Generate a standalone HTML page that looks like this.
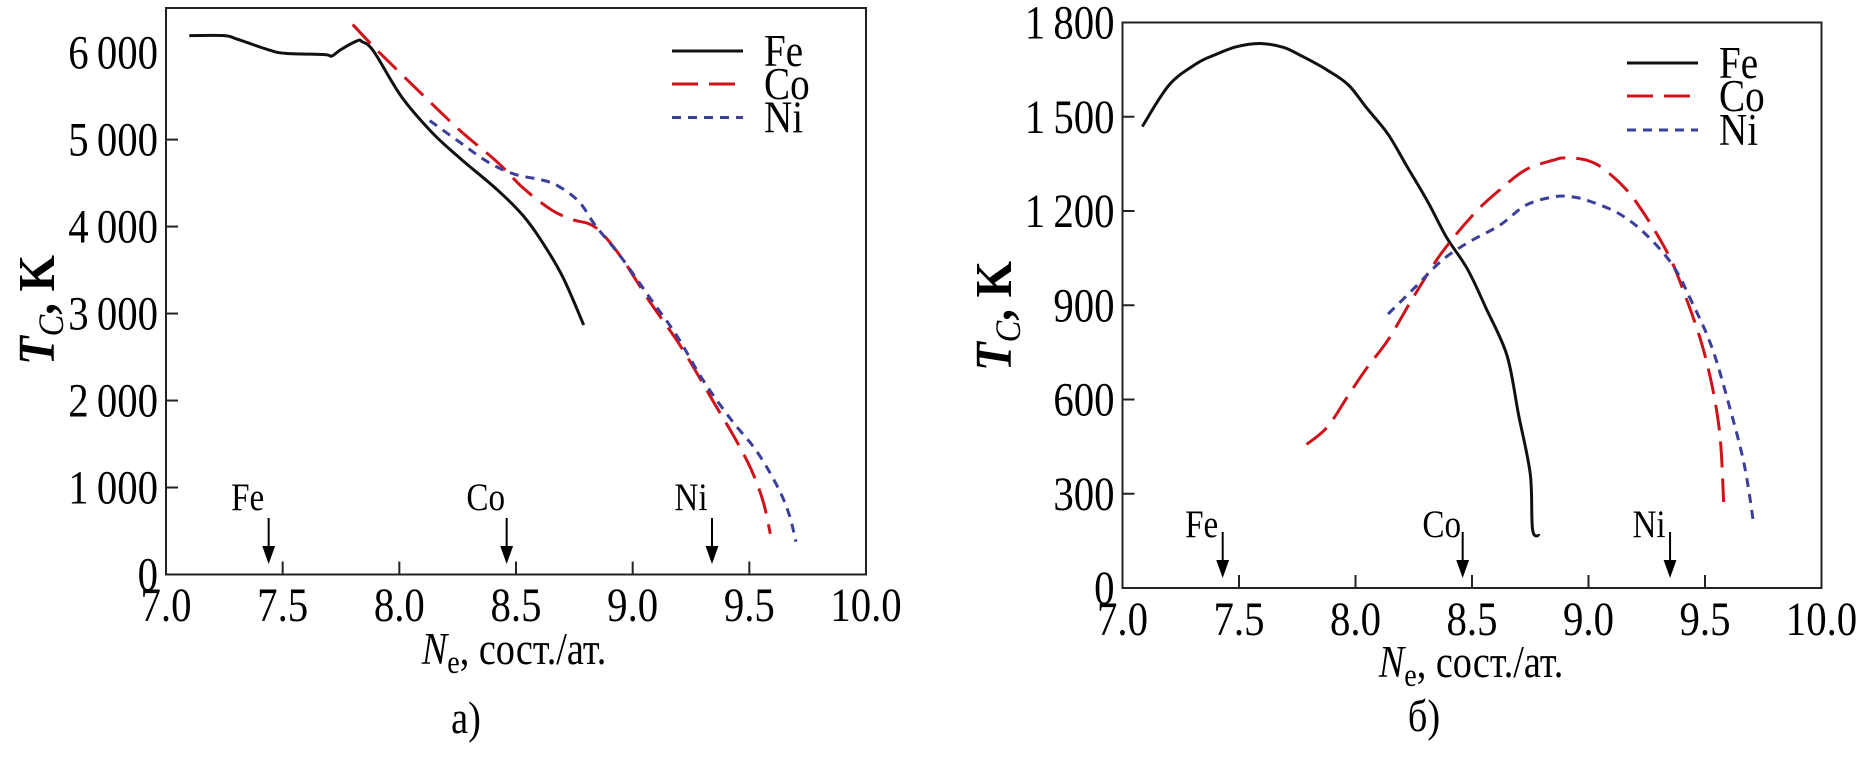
<!DOCTYPE html>
<html><head><meta charset="utf-8"><style>
html,body{margin:0;padding:0;background:#fff;}
svg{display:block;}
svg text{font-family:"Liberation Serif","Times New Roman",serif;}
</style></head><body>
<svg id="chart" width="1875" height="759" viewBox="0 0 1875 759" xmlns="http://www.w3.org/2000/svg"></svg>
<script>
// ---- Panel a data ----
const xTicks = [7.0, 7.5, 8.0, 8.5, 9.0, 9.5, 10.0];
const xTickLabels = ["7.0","7.5","8.0","8.5","9.0","9.5","10.0"];
const aYTicks = [0,1000,2000,3000,4000,5000,6000];
const aYTickLabels = ["0","1\u2009000","2\u2009000","3\u2009000","4\u2009000","5\u2009000","6\u2009000"];
const aFeX = [7.10,7.25,7.31,7.45,7.52,7.68,7.71,7.75,7.82,7.84,7.89,8.01,8.14,8.26,8.42,8.53,8.61,8.70,8.79];
const aFeY = [6195,6195,6150,6023,5990,5977,5960,6036,6136,6127,6014,5490,5082,4786,4423,4127,3832,3423,2868];
const aCoX = [7.80,7.91,8.10,8.26,8.42,8.53,8.65,8.74,8.84,8.95,9.07,9.21,9.35,9.44,9.51,9.56,9.59];
const aCoY = [6323,6014,5514,5105,4741,4445,4195,4082,3991,3650,3150,2605,1968,1559,1195,832,468];
const aNiX = [8.13,8.26,8.38,8.49,8.61,8.68,8.77,8.84,8.95,9.07,9.19,9.30,9.42,9.53,9.62,9.67,9.70];
const aNiY = [5218,4968,4741,4605,4536,4468,4286,4014,3650,3195,2741,2241,1786,1423,1014,695,377];
const aMarkers = [7.44, 8.46, 9.34];
// ---- Panel b data ----
const bYTicks = [0,300,600,900,1200,1500,1800];
const bYTickLabels = ["0","300","600","900","1\u2009200","1\u2009500","1\u2009800"];
const bFeX = [7.085,7.20,7.32,7.40,7.49,7.59,7.69,7.77,7.88,7.97,8.05,8.14,8.22,8.31,8.39,8.48,8.56,8.65,8.70,8.75,8.76,8.79];
const bFeY = [1469,1601,1670,1698,1723,1733,1721,1693,1648,1601,1526,1444,1343,1230,1117,1016,891,740,551,362,186,167];
const bCoX = [7.79,7.88,7.97,8.05,8.14,8.25,8.37,8.51,8.62,8.73,8.85,8.90,8.99,9.07,9.19,9.33,9.41,9.50,9.56,9.58];
const bCoY = [457,513,614,702,790,928,1067,1192,1268,1331,1362,1369,1362,1331,1243,1079,941,740,513,274];
const bNiX = [8.14,8.25,8.37,8.48,8.62,8.73,8.85,8.93,9.01,9.13,9.24,9.36,9.44,9.53,9.61,9.67,9.71];
const bNiY = [872,953,1042,1098,1155,1218,1245,1245,1230,1192,1130,1029,916,765,564,387,199];
const bMarkers = [7.43, 8.46, 9.35];
const markerNames = ["Fe","Co","Ni"];

const NS = "http://www.w3.org/2000/svg";
const svg = document.getElementById("chart");
function mk(tag, attrs, parent){const e=document.createElementNS(NS,tag);for(const k in attrs)e.setAttribute(k,attrs[k]);(parent||svg).appendChild(e);return e;}
function txt(x,y,s,size,anchor,parent,sx){
  const t=mk("text",{x:0,y:0,"font-size":size,"text-anchor":anchor||"middle",fill:"#000",transform:`translate(${x},${y}) scale(${sx||0.85},1)`},parent);
  t.textContent=s;return t;
}
const COLORS={Fe:"#111",Co:"#d0121b",Ni:"#3b3f9c"};
const DASH={Fe:"",Co:"26 11",Ni:"9 7"};

function smooth(pts){
  let d="M"+pts[0][0].toFixed(1)+","+pts[0][1].toFixed(1);
  for(let i=0;i<pts.length-1;i++){
    const p0=pts[i-1]||pts[i],p1=pts[i],p2=pts[i+1],p3=pts[i+2]||p2;
    const c1=[p1[0]+(p2[0]-p0[0])/6,p1[1]+(p2[1]-p0[1])/6];
    const c2=[p2[0]-(p3[0]-p1[0])/6,p2[1]-(p3[1]-p1[1])/6];
    d+=` C${c1[0].toFixed(1)},${c1[1].toFixed(1)} ${c2[0].toFixed(1)},${c2[1].toFixed(1)} ${p2[0].toFixed(1)},${p2[1].toFixed(1)}`;
  }
  return d;
}

function panel(cfg){
  const g=mk("g",{});
  
  
  const X=v=>cfg.L+(v-7)/3*(cfg.R-cfg.L);
  const Y=v=>cfg.B-v/cfg.yMax*(cfg.B-cfg.T);
  const frame=mk("rect",{x:cfg.L,y:cfg.T,width:cfg.R-cfg.L,height:cfg.B-cfg.T,fill:"none",stroke:"#222","stroke-width":2},g);
  
  
  xTicks.forEach((v,i)=>{
    if(i>0&&i<xTicks.length-1){const tk=mk("line",{x1:X(v),x2:X(v),y1:cfg.B,y2:cfg.B-13,stroke:"#222","stroke-width":2},g);
      
      }
    const t=txt(X(v),cfg.xLabY,xTickLabels[i],48,"middle",g);
    
    
  });
  cfg.yTicks.forEach((v,i)=>{
    if(i>0&&i<cfg.yTicks.length-1){const tk=mk("line",{x1:cfg.L,x2:cfg.L+12,y1:Y(v),y2:Y(v),stroke:"#222","stroke-width":2},g);
      
      }
    const t=txt(cfg.L-8,Y(v)+16,cfg.yLabels[i],48,"end",g);
    
    
  });
  cfg.series.forEach(s=>{
    const pts=s.x.map((v,i)=>[X(v),Y(s.y[i])]);
    const p=mk("path",{d:smooth(pts),fill:"none",stroke:COLORS[s.n],"stroke-width":3,"stroke-dasharray":DASH[s.n],"stroke-linejoin":"round"},g);
    
    
  });
  ["Fe","Co","Ni"].forEach((n,i)=>{
    const y=cfg.legY[i];
    const l=mk("line",{x1:cfg.legX,x2:cfg.legX+71,y1:y,y2:y,stroke:COLORS[n],"stroke-width":3,"stroke-dasharray":DASH[n]},g);
    
    
    const t=txt(cfg.legX+92,y+15,n,46,"start",g);
    
    
  });
  cfg.markers.forEach((v,i)=>{
    const ax=X(v);
    const t=txt(ax-21,cfg.mLabY,markerNames[i],39,"middle",g);
    
    
    const a=mk("path",{d:`M${ax},${cfg.mTop} V${cfg.mBot-12} M${ax-5},${cfg.mBot-14} L${ax},${cfg.mBot} L${ax+5},${cfg.mBot-14} Z`,stroke:"#000","stroke-width":2,fill:"#000"},g);
    
    
  });
  const xt=mk("text",{x:0,y:0,"font-size":45,"text-anchor":"middle",transform:`translate(${cfg.xtX},${cfg.xtY}) scale(0.85,1)`},g);
  xt.innerHTML='<tspan font-style="italic">N</tspan><tspan font-size="33" dy="9">e</tspan><tspan dy="-9">, сост./ат.</tspan>';
  
  
  const yt=mk("text",{x:0,y:0,"font-size":52,"text-anchor":"middle","font-weight":"bold",transform:`translate(${cfg.ytX},${cfg.ytY}) rotate(-90) scale(0.9,1)`},g);
  yt.innerHTML='<tspan font-style="italic">T</tspan><tspan font-size="36" font-style="italic" font-weight="normal" dy="9">C</tspan><tspan dy="-9">, K</tspan>';
  
  
  const cap=txt(cfg.capX,cfg.capY,cfg.cap,45,"middle",g);
  
  
}

panel({name:"panel-a",L:166,R:866,T:8,B:574.5,yMax:6000*(574.5-8)/(574.5-52.6),
  yTicks:aYTicks,yLabels:aYTickLabels,xLabY:621,
  series:[{n:"Fe",x:aFeX,y:aFeY},{n:"Co",x:aCoX,y:aCoY},{n:"Ni",x:aNiX,y:aNiY}],
  legX:672,legY:[51,84,117.5],markers:aMarkers,mLabY:510,mTop:518,mBot:561,
  xtX:514,xtY:664,ytX:54,ytY:310,cap:"а)",capX:466,capY:733});
panel({name:"panel-b",L:1122.5,R:1821.5,T:22.5,B:588,yMax:1800,
  yTicks:bYTicks,yLabels:bYTickLabels,xLabY:635,
  series:[{n:"Fe",x:bFeX,y:bFeY},{n:"Co",x:bCoX,y:bCoY},{n:"Ni",x:bNiX,y:bNiY}],
  legX:1627,legY:[63,96,130],markers:bMarkers,mLabY:537,mTop:532,mBot:575,
  xtX:1471,xtY:677,ytX:1011,ytY:316,cap:"б)",capX:1424,capY:731});
</script>
</body></html>
